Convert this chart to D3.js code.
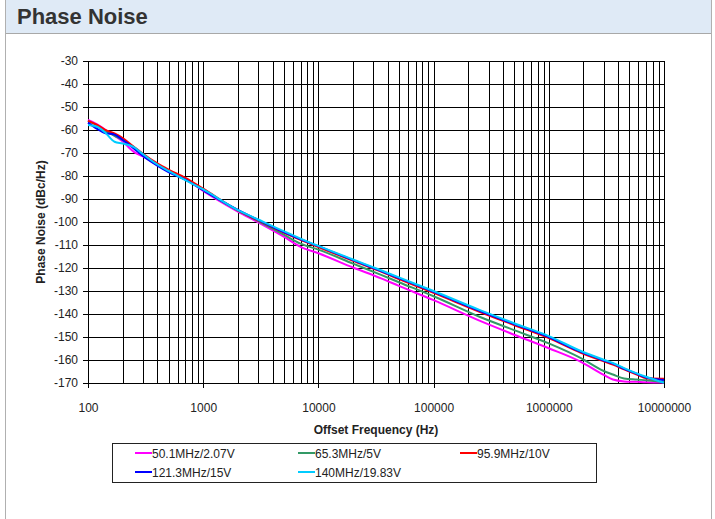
<!DOCTYPE html>
<html>
<head>
<meta charset="utf-8">
<script src="https://cdn.jsdelivr.net/npm/d3@7"></script>
<style>
  body { margin: 0; background: #fff; }
  text { font-family: 'Liberation Sans', Arial, sans-serif; }
</style>
</head>
<body>
<script>
// offset frequencies (Hz)
const freqs = [100, 120, 140, 170, 200, 250, 300, 400, 500, 700, 1000, 2000, 3000, 5000, 7000,
  10000, 20000, 35000, 50000, 100000, 250000, 500000, 1000000, 1900000, 3000000, 3600000,
  4500000, 5800000, 7000000, 10000000];

const seriesNames = ['50.1MHz/2.07V', '65.3MHz/5V', '95.9MHz/10V', '121.3MHz/15V', '140MHz/19.83V'];

const pn50 = [-55.6, -57.5, -59.8, -62.5, -65.0, -69.5, -71.5, -75.2, -78.0, -81.2, -86.5, -95.5, -100.2, -106.4, -110.8,
  -113.6, -119.8, -124.5, -127.8, -134.0, -142.9, -149.0, -154.9, -160.8, -166.5, -168.5, -169.3, -169.5, -169.7, -169.8];
const pn65 = [-56.0, -58.0, -60.2, -62.5, -64.3, -67.5, -71.0, -75.0, -77.8, -81.0, -86.0, -95.0, -99.6, -105.5, -109.4,
  -112.0, -118.1, -123.0, -126.2, -132.3, -141.2, -147.0, -152.8, -159.2, -164.8, -166.3, -168.0, -168.5, -168.8, -169.6];
const pn95 = [-56.0, -57.8, -59.8, -61.5, -63.5, -67.3, -70.3, -74.5, -77.2, -80.8, -85.5, -94.9, -99.3, -104.6, -107.8,
  -110.9, -116.9, -121.6, -124.8, -130.8, -139.0, -144.8, -150.5, -156.9, -160.6, -162.0, -164.1, -166.3, -167.9, -168.1];
const pn121 = [-56.8, -59.5, -61.3, -62.0, -64.3, -68.0, -71.3, -75.5, -78.3, -81.6, -86.2, -94.7, -99.1, -104.4, -107.5,
  -110.5, -116.6, -121.3, -124.4, -130.4, -138.6, -144.4, -150.0, -156.5, -160.2, -161.6, -163.8, -166.0, -167.6, -168.7];
const pn140 = [-57.8, -58.6, -61.0, -65.1, -65.9, -67.4, -70.5, -75.0, -77.8, -81.8, -85.8, -94.8, -98.9, -104.0, -107.2,
  -110.4, -116.3, -121.0, -124.1, -130.0, -138.2, -144.0, -149.6, -156.1, -159.9, -161.3, -163.5, -165.8, -167.3, -169.9];

const xTicks = [100, 1000, 10000, 100000, 1000000, 10000000];
const yTicks = [-30, -40, -50, -60, -70, -80, -90, -100, -110, -120, -130, -140, -150, -160, -170];

const colors = ['#ff00ff', '#339966', '#ff0000', '#0000ff', '#00ccff'];
const allSeries = [pn50, pn65, pn95, pn121, pn140];

const w = 715;
const h = 519;
const plotLeft = 88, plotRight = 664, plotTop = 61, plotBottom = 383;

const svg = d3.select('body')
  .append('svg')
  .attr('width', w)
  .attr('height', h);

// frame and title bar
svg.append('rect')
  .attr('x', 5).attr('y', 0)
  .attr('width', 707).attr('height', 33)
  .attr('fill', '#dfeaf6');
svg.append('line')
  .attr('x1', 5).attr('x2', 712).attr('y1', 33.5).attr('y2', 33.5)
  .attr('stroke', '#a8a8a8');
svg.append('line')
  .attr('x1', 5.5).attr('x2', 5.5).attr('y1', 0).attr('y2', h)
  .attr('stroke', '#b0b0b0');
svg.append('line')
  .attr('x1', 711.5).attr('x2', 711.5).attr('y1', 0).attr('y2', h)
  .attr('stroke', '#b0b0b0');
svg.append('text')
  .attr('x', 17).attr('y', 24)
  .attr('font-size', 22)
  .attr('font-weight', 'bold')
  .attr('fill', '#333')
  .text('Phase Noise');

const xScale = d3.scaleLog()
  .domain([100, 10000000])
  .range([plotLeft, plotRight]);
const yScale = d3.scaleLinear()
  .domain([-170, -30])
  .range([plotBottom, plotTop]);

// gridlines
const minorTicks = [];
for (let dec = 100; dec < 10000000; dec *= 10) {
  for (let m = 1; m < 10; m++) minorTicks.push(dec * m);
}
minorTicks.push(10000000);

svg.append('g')
  .attr('class', 'grid-x')
  .attr('transform', 'translate(0,' + plotBottom + ')')
  .call(d3.axisBottom(xScale).tickValues(minorTicks).tickSize(-(plotBottom - plotTop)).tickFormat(''))
  .call(g => g.select('.domain').remove())
  .selectAll('line')
  .attr('stroke', '#000')
  .attr('shape-rendering', 'crispEdges');

svg.append('g')
  .attr('class', 'grid-y')
  .attr('transform', 'translate(' + plotLeft + ',0)')
  .call(d3.axisLeft(yScale).tickValues(yTicks).tickSize(-(plotRight - plotLeft)).tickFormat(''))
  .call(g => g.select('.domain').remove())
  .selectAll('line')
  .attr('stroke', '#000')
  .attr('shape-rendering', 'crispEdges');

// axes
const xAxis = svg.append('g')
  .attr('transform', 'translate(0,' + plotBottom + ')')
  .call(d3.axisBottom(xScale).tickValues(xTicks).tickSize(5).tickPadding(15).tickFormat((d) => String(d)));
xAxis.selectAll('text').attr('font-size', 12).attr('fill', '#222').style('font-family', "'Liberation Sans', Arial, sans-serif");
xAxis.selectAll('line, path').attr('stroke', '#000').attr('shape-rendering', 'crispEdges');

const yAxis = svg.append('g')
  .attr('transform', 'translate(' + plotLeft + ',0)')
  .call(d3.axisLeft(yScale).tickValues(yTicks).tickSize(5).tickPadding(5).tickFormat((d) => String(d)));
yAxis.selectAll('text').attr('font-size', 12).attr('fill', '#222').style('font-family', "'Liberation Sans', Arial, sans-serif");
yAxis.selectAll('line, path').attr('stroke', '#000').attr('shape-rendering', 'crispEdges');

// axis titles
svg.append('text')
  .attr('x', (plotLeft + plotRight) / 2).attr('y', 434)
  .attr('text-anchor', 'middle')
  .attr('font-size', 12)
  .attr('font-weight', 'bold')
  .attr('fill', '#222')
  .text('Offset Frequency (Hz)');
svg.append('text')
  .attr('transform', 'translate(45,' + (plotTop + plotBottom) / 2 + ') rotate(-90)')
  .attr('text-anchor', 'middle')
  .attr('font-size', 12)
  .attr('font-weight', 'bold')
  .attr('fill', '#222')
  .text('Phase Noise (dBc/Hz)');

// series
const line = d3.line()
  .x((d) => xScale(d[0]))
  .y((d) => yScale(d[1]))
  .curve(d3.curveMonotoneX);

allSeries.forEach((vals, i) => {
  svg.append('path')
    .datum(freqs.map((f, j) => [f, vals[j]]))
    .attr('fill', 'none')
    .attr('stroke', colors[i])
    .attr('stroke-width', 2)
    .attr('d', line);
});

// legend
const legend = svg.append('g');
legend.append('rect')
  .attr('x', 112.5).attr('y', 443.5)
  .attr('width', 484).attr('height', 39)
  .attr('fill', 'none')
  .attr('stroke', '#222');
const legendPos = [[135, 453], [298, 453], [460, 453], [135, 472], [298, 472]];
seriesNames.forEach((name, i) => {
  const p = legendPos[i];
  legend.append('line')
    .attr('x1', p[0]).attr('x2', p[0] + 17)
    .attr('y1', p[1]).attr('y2', p[1])
    .attr('stroke', colors[i])
    .attr('stroke-width', 2);
  legend.append('text')
    .attr('x', p[0] + 17).attr('y', p[1] + 5)
    .attr('font-size', 12)
    .attr('fill', '#222')
    .text(name);
});
</script>
</body>
</html>
